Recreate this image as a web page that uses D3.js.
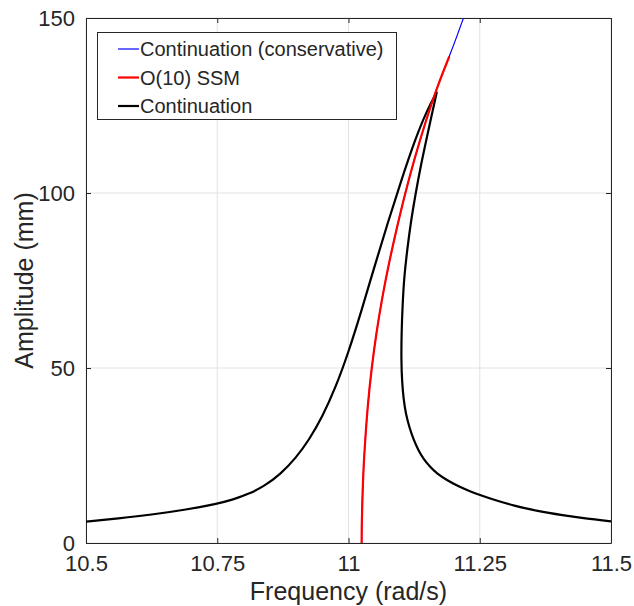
<!DOCTYPE html>
<html>
<head>
<meta charset="utf-8">
<script src="https://cdn.jsdelivr.net/npm/d3@7"></script>
<style>
  body { margin: 0; background: #fff; }
  text { font-family: "Liberation Sans", Arial, sans-serif; fill: #262626; }
</style>
</head>
<body>
<svg id="chart" width="634" height="606"></svg>
<script>
// tick values
var xTicks = [10.5, 10.75, 11, 11.25, 11.5];
var yTicks = [0, 50, 100, 150];

// conservative continuation (backbone), freq / amp
var consFreq = [11.025, 11.0252, 11.026, 11.028, 11.032, 11.037, 11.044, 11.053, 11.064, 11.077, 11.092, 11.108, 11.126, 11.146, 11.168, 11.192, 11.207, 11.219];
var consAmp  = [0, 5, 10, 20, 30, 40, 50, 60, 70, 80, 90, 100, 110, 120, 130, 139, 145, 150];

// O(10) SSM
var ssmFreq = [11.025, 11.0252, 11.026, 11.028, 11.032, 11.037, 11.044, 11.053, 11.064, 11.077, 11.092, 11.108, 11.126, 11.146, 11.168, 11.192];
var ssmAmp  = [0, 5, 10, 20, 30, 40, 50, 60, 70, 80, 90, 100, 110, 120, 130, 139];

// forced continuation (FRC): left branch up to the fold, then right branch down
var contFreq = [10.5, 10.56, 10.63, 10.69, 10.75, 10.78, 10.81, 10.84, 10.87, 10.90, 10.925, 10.95, 10.975, 11.0, 11.025, 11.05, 11.075, 11.1, 11.125, 11.15,
                11.168, 11.168, 11.168,
                11.158, 11.148, 11.138, 11.128, 11.119, 11.112, 11.106, 11.103, 11.101, 11.1005, 11.102, 11.105, 11.109, 11.116, 11.124, 11.133, 11.143,
                11.155, 11.168, 11.187, 11.21, 11.232, 11.25, 11.28, 11.314, 11.36, 11.409, 11.45, 11.5];
var contAmp  = [6.1, 7.0, 8.2, 9.5, 11.2, 12.4, 14.0, 16.3, 19.6, 24.3, 29.5, 36.0, 44.25, 54.5, 66.5, 79.25, 91.6, 103.35, 114.6, 123.85,
                128.7, 128.7, 128.7,
                122, 115, 108, 100, 92, 84, 76, 68, 60, 52, 46, 41, 37, 33, 29.5, 26.5, 24,
                21.8, 19.9, 18, 16.1, 14.75, 13.75, 12.2, 10.7, 9.1, 7.9, 7.0, 6.2];

var legendNames = ["Continuation (conservative)", "O(10) SSM", "Continuation"];
var legendColors = ["#0000ff", "#ff0000", "#000000"];

var svg = d3.select("#chart");
var pL = 86, pR = 611, pT = 18, pB = 543;
var axisCol = "#262626";

var x = d3.scaleLinear().domain([10.5, 11.5]).range([pL, pR]);
var y = d3.scaleLinear().domain([0, 150]).range([pB, pT]);

svg.append("defs").append("clipPath").attr("id", "clip")
    .append("rect").attr("x", pL).attr("y", pT)
    .attr("width", pR - pL).attr("height", pB - pT);

// grid
var grid = svg.append("g");
grid.selectAll(".gx").data(xTicks).enter().append("line")
    .attr("x1", function(d){ return x(d); }).attr("x2", function(d){ return x(d); })
    .attr("y1", pT).attr("y2", pB)
    .attr("stroke", "#e2e2e2").attr("stroke-width", 1);
grid.selectAll(".gy").data(yTicks).enter().append("line")
    .attr("x1", pL).attr("x2", pR)
    .attr("y1", function(d){ return y(d); }).attr("y2", function(d){ return y(d); })
    .attr("stroke", "#e2e2e2").attr("stroke-width", 1);

// axes (ticks inward on all four sides)
var fmtX = function(d){ return d3.format("")(d); };
var styleTicks = function(g){
    g.select(".domain").attr("stroke", axisCol);
    g.selectAll(".tick line").attr("stroke", axisCol);
    g.selectAll("text").style("font-size", "22px").attr("fill", axisCol)
        .style("font-family", "'Liberation Sans', Arial, sans-serif");
};
svg.append("g").attr("transform", "translate(0," + pB + ")")
    .call(d3.axisBottom(x).tickValues(xTicks).tickFormat(fmtX).tickSizeInner(-5).tickSizeOuter(0).tickPadding(12))
    .call(styleTicks);
svg.append("g").attr("transform", "translate(0," + pT + ")")
    .call(d3.axisTop(x).tickValues(xTicks).tickFormat("").tickSizeInner(-5).tickSizeOuter(0))
    .call(styleTicks);
svg.append("g").attr("transform", "translate(" + pL + ",0)")
    .call(d3.axisLeft(y).tickValues(yTicks).tickSizeInner(-5).tickSizeOuter(0).tickPadding(11))
    .call(styleTicks);
svg.append("g").attr("transform", "translate(" + pR + ",0)")
    .call(d3.axisRight(y).tickValues(yTicks).tickFormat("").tickSizeInner(-5).tickSizeOuter(0))
    .call(styleTicks);

// curves (B-spline; the fold point is repeated to keep it sharp)
var line = d3.line()
    .x(function(d){ return x(d[0]); })
    .y(function(d){ return y(d[1]); })
    .curve(d3.curveBasis);

var zip = function(a, b){ return a.map(function(v, i){ return [v, b[i]]; }); };
var plot = svg.append("g").attr("clip-path", "url(#clip)");

plot.append("path").datum(zip(consFreq, consAmp))
    .attr("d", line).attr("fill", "none").attr("stroke", "#0000ff").attr("stroke-width", 1.2);
plot.append("path").datum(zip(contFreq, contAmp))
    .attr("d", line).attr("fill", "none").attr("stroke", "#000").attr("stroke-width", 2.2)
    .attr("stroke-linejoin", "round");
plot.append("path").datum(zip(ssmFreq, ssmAmp))
    .attr("d", line).attr("fill", "none").attr("stroke", "#ff0000").attr("stroke-width", 2.2);

// axis labels
svg.append("text").attr("x", (pL + pR) / 2).attr("y", 600)
    .attr("text-anchor", "middle").style("font-size", "25px")
    .text("Frequency (rad/s)");
svg.append("text").attr("transform", "translate(33," + ((pT + pB) / 2) + ") rotate(-90)")
    .attr("text-anchor", "middle").style("font-size", "25px")
    .text("Amplitude (mm)");

// legend
var lg = svg.append("g");
lg.append("rect").attr("x", 97.5).attr("y", 32.5).attr("width", 299).attr("height", 87)
    .attr("fill", "#fff").attr("stroke", axisCol).attr("stroke-width", 1);
var rows = lg.selectAll(".row").data(legendNames).enter().append("g")
    .attr("transform", function(d, i){ return "translate(0," + (49 + i * 28.5) + ")"; });
rows.append("line").attr("x1", 118).attr("x2", 139).attr("y1", 0).attr("y2", 0)
    .attr("stroke", function(d, i){ return legendColors[i]; })
    .attr("stroke-width", function(d, i){ return i === 0 ? 1.2 : 2.2; });
rows.append("text").attr("x", 140).attr("y", 0).attr("dy", "0.35em")
    .style("font-size", "20px").attr("fill", "#000")
    .text(function(d){ return d; });
</script>
</body>
</html>
